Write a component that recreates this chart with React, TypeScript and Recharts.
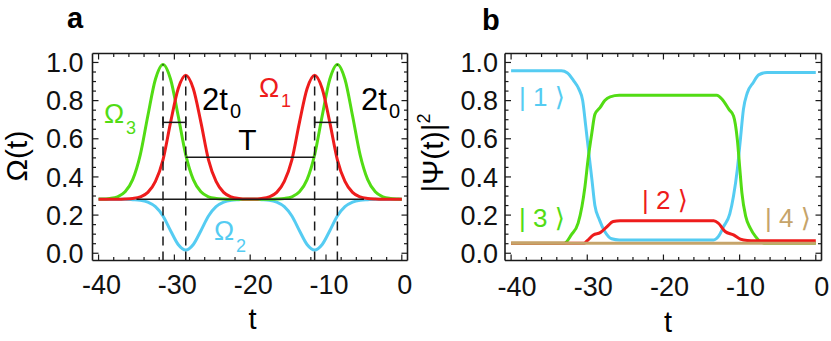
import React from 'react'
import { LineChart, Line, XAxis, YAxis, ReferenceLine } from 'recharts'

const FONT = "'Liberation Sans', Arial, Helvetica, sans-serif"
const KET_FONT = "'Liberation Sans', 'DejaVu Sans', sans-serif"

const CYAN = '#55ccf2'
const GREEN = '#52dc14'
const RED = '#ee1c1c'
const TAN = '#c6a46a'
const INK = '#1a1a1a'

// ---- panel a: pulse envelopes ----
const tA = [
  -40, -39.5, -38.5, -37.5, -36.5, -35.5, -34.5, -33.5, -32.5, -31.5, -30.5,
  -29.5, -28.5, -27.5, -26.5, -25.5, -24.5, -23.5, -22.5, -21.5, -20.5, -19.5,
  -18.5, -17.5, -16.5, -15.5, -14.5, -13.5, -12.5, -11.5, -10.5, -9.5, -8.5,
  -7.5, -6.5, -5.5, -4.5, -3.5, -2.5, -1.5, -0.5, 0,
]
const omega1 = [
  0.283, 0.283, 0.283, 0.283, 0.284, 0.287, 0.295, 0.319, 0.377, 0.49, 0.686,
  0.862, 0.933, 0.862, 0.686, 0.49, 0.377, 0.319, 0.295, 0.287, 0.284, 0.284,
  0.287, 0.295, 0.319, 0.377, 0.49, 0.686, 0.862, 0.933, 0.862, 0.686, 0.49,
  0.377, 0.319, 0.295, 0.287, 0.284, 0.283, 0.283, 0.283, 0.283,
]
const omega2 = [
  0.283, 0.283, 0.283, 0.283, 0.283, 0.281, 0.278, 0.268, 0.244, 0.195, 0.118,
  0.046, 0.017, 0.046, 0.118, 0.195, 0.244, 0.268, 0.278, 0.281, 0.283, 0.283,
  0.281, 0.278, 0.268, 0.244, 0.195, 0.118, 0.046, 0.017, 0.046, 0.118, 0.195,
  0.244, 0.268, 0.278, 0.281, 0.283, 0.283, 0.283, 0.283, 0.283,
]
const omega3 = [
  0.284, 0.284, 0.287, 0.296, 0.322, 0.386, 0.516, 0.721, 0.912, 0.99, 0.912,
  0.721, 0.516, 0.386, 0.322, 0.296, 0.287, 0.284, 0.283, 0.283, 0.283, 0.283,
  0.283, 0.283, 0.284, 0.287, 0.296, 0.322, 0.386, 0.516, 0.721, 0.912, 0.99,
  0.912, 0.721, 0.516, 0.386, 0.322, 0.296, 0.287, 0.284, 0.283,
]

// guide marks in panel a
const dashT = [-31.5, -28.5, -11.5, -8.5]
const dashTop = [0.99, 0.933, 0.933, 0.99]
const baseLevel = 0.283
const baseSpan = [-35, -5]
const t0Level = 0.686
const t0Spans = [
  [-31.5, -28.5],
  [-11.5, -8.5],
]
const bigTLevel = 0.503
const bigTSpan = [-28.5, -11.5]

// ---- panel b: populations ----
const ket1T = [
  -40, -33.4, -32.6, -31.8, -31.1, -30.6, -30.2, -29.8, -29.4, -29.0, -28.4,
  -27.7, -26.8, -25.8, -13.4, -12.8, -12.1, -11.3, -10.8, -10.3, -9.9, -9.5,
  -9.0, -8.2, -7.5, -6.4, 0,
]
const ket1V = [
  0.956, 0.956, 0.945, 0.905, 0.86, 0.8, 0.666, 0.526, 0.39, 0.25, 0.175,
  0.114, 0.076, 0.07, 0.07, 0.087, 0.14, 0.205, 0.3, 0.44, 0.596, 0.754,
  0.84, 0.895, 0.935, 0.947, 0.947,
]
const ket2T = [
  -40, -30.4, -30.0, -29.2, -28.3, -27.4, -26.6, -25.7, -13.4, -12.8, -11.9,
  -10.8, -9.9, -9.0, -8.0, 0,
]
const ket2V = [
  0.053, 0.053, 0.066, 0.096, 0.108, 0.14, 0.166, 0.17, 0.17, 0.158, 0.114,
  0.096, 0.074, 0.067, 0.066, 0.066,
]
const ket3T = [
  -40, -33.0, -32.1, -31.2, -30.7, -30.3, -29.9, -29.4, -29.0, -28.3, -27.7,
  -27.0, -25.8, -13.0, -12.3, -11.4, -10.8, -10.3, -10.0, -9.7, -9.2, -8.6,
  -7.9, -7.3, -6.8, 0,
]
const ket3V = [
  0.053, 0.053, 0.096, 0.158, 0.245, 0.35, 0.49, 0.63, 0.728, 0.765, 0.8,
  0.82, 0.828, 0.828, 0.807, 0.754, 0.72, 0.596, 0.456, 0.316, 0.193, 0.132,
  0.087, 0.061, 0.053, 0.053,
]
const ket4T = [-40, 0]
const ket4V = [0.053, 0.053]

// ticks
const xTicks = [
  -40, -38, -36, -34, -32, -30, -28, -26, -24, -22, -20, -18, -16, -14, -12,
  -10, -8, -6, -4, -2, 0,
]
const yTicks = [
  0, 0.05, 0.1, 0.15, 0.2, 0.25, 0.3, 0.35, 0.4, 0.45, 0.5, 0.55, 0.6, 0.65,
  0.7, 0.75, 0.8, 0.85, 0.9, 0.95, 1,
]

const X_DOMAIN: [number, number] = [-40.8, 0.75]
const Y_DOMAIN: [number, number] = [-0.038, 1.047]
const TICK_FS = 27

const panelA = tA.map((t, i) => ({ t, o1: omega1[i], o2: omega2[i], o3: omega3[i] }))
const zip = (ts: number[], vs: number[]) => ts.map((t, i) => ({ t, v: vs[i] }))
const ket1 = zip(ket1T, ket1V)
const ket2 = zip(ket2T, ket2V)
const ket3 = zip(ket3T, ket3V)
const ket4 = zip(ket4T, ket4V)

// ticks are drawn inward, Mathematica-frame style
function xTick(side: 'bottom' | 'top', labelDx: number, labelDy: number) {
  return (props: any) => {
    const { x, y, payload } = props
    const v = payload.value
    const major = Math.abs(v % 10) < 1e-6
    const len = major ? 6 : 3.5
    const dir = side === 'bottom' ? -1 : 1
    return (
      <g>
        <line x1={x} x2={x} y1={y} y2={y + dir * len} stroke={INK} strokeWidth={1.2} />
        {side === 'bottom' && major && (
          <text x={x + labelDx} y={y + labelDy} textAnchor="middle" fontFamily={FONT} fontSize={TICK_FS} fill="#111">
            {v}
          </text>
        )}
      </g>
    )
  }
}

function yTick(side: 'left' | 'right', labelGap: number) {
  return (props: any) => {
    const { x, y, payload } = props
    const v = payload.value
    const major = Math.abs(v * 5 - Math.round(v * 5)) < 1e-6
    const len = major ? 6 : 3.5
    const dir = side === 'left' ? 1 : -1
    return (
      <g>
        <line x1={x} x2={x + dir * len} y1={y} y2={y} stroke={INK} strokeWidth={1.2} />
        {side === 'left' && major && (
          <text x={x - labelGap} y={y + 9.7} textAnchor="end" fontFamily={FONT} fontSize={TICK_FS} fill="#111">
            {v.toFixed(1)}
          </text>
        )}
      </g>
    )
  }
}

function Frame({ leftW, labelDx, labelDy, labelGap }: any) {
  return [
    <XAxis
      key="xb"
      xAxisId="b"
      dataKey="t"
      type="number"
      domain={X_DOMAIN}
      allowDataOverflow
      ticks={xTicks}
      interval={0}
      height={80.5}
      tickSize={0}
      tickMargin={0}
      tickLine={false}
      axisLine={{ stroke: INK, strokeWidth: 1.6 }}
      tick={xTick('bottom', labelDx, labelDy)}
    />,
    <XAxis
      key="xt"
      xAxisId="t"
      orientation="top"
      dataKey="t"
      type="number"
      domain={X_DOMAIN}
      allowDataOverflow
      ticks={xTicks}
      interval={0}
      height={1}
      tickSize={0}
      tickMargin={0}
      tickLine={false}
      axisLine={{ stroke: INK, strokeWidth: 1.6 }}
      tick={xTick('top', 0, 0)}
    />,
    <YAxis
      key="yl"
      yAxisId="l"
      type="number"
      domain={Y_DOMAIN}
      allowDataOverflow
      ticks={yTicks}
      interval={0}
      width={leftW}
      tickSize={0}
      tickMargin={0}
      tickLine={false}
      axisLine={{ stroke: INK, strokeWidth: 1.6 }}
      tick={yTick('left', labelGap)}
    />,
    <YAxis
      key="yr"
      yAxisId="r"
      orientation="right"
      type="number"
      domain={Y_DOMAIN}
      allowDataOverflow
      ticks={yTicks}
      interval={0}
      width={1}
      tickSize={0}
      tickMargin={0}
      tickLine={false}
      axisLine={{ stroke: INK, strokeWidth: 1.6 }}
      tick={yTick('right', 0)}
    />,
  ]
}

function PanelA() {
  const ax = { xAxisId: 'b', yAxisId: 'l' }
  return (
    <LineChart width={415} height={341} data={panelA} margin={{ top: 52.5, right: 6.5, bottom: 0, left: 0 }}>
      {Frame({ leftW: 92.5, labelDx: 3, labelDy: 33, labelGap: 9 })}
      <Line {...ax} dataKey="o2" type="monotone" stroke={CYAN} strokeWidth={3} dot={false} isAnimationActive={false} />
      <Line {...ax} dataKey="o3" type="monotone" stroke={GREEN} strokeWidth={3} dot={false} isAnimationActive={false} />
      <Line {...ax} dataKey="o1" type="monotone" stroke={RED} strokeWidth={3} dot={false} isAnimationActive={false} />
      <ReferenceLine
        {...ax}
        segment={[
          { x: baseSpan[0], y: baseLevel },
          { x: baseSpan[1], y: baseLevel },
        ]}
        stroke={INK}
        strokeWidth={1.5}
      />
      {dashT.map((t, i) => (
        <ReferenceLine
          key={'d' + i}
          {...ax}
          segment={[
            { x: t, y: Y_DOMAIN[0] },
            { x: t, y: dashTop[i] },
          ]}
          stroke={INK}
          strokeWidth={1.5}
          strokeDasharray="9 6"
        />
      ))}
      {t0Spans.map(([a, b], i) => (
        <ReferenceLine
          key={'s' + i}
          {...ax}
          segment={[
            { x: a, y: t0Level },
            { x: b, y: t0Level },
          ]}
          stroke={INK}
          strokeWidth={1.5}
        />
      ))}
      {t0Spans.flat().map((t, i) => (
        <ReferenceLine
          key={'c' + i}
          {...ax}
          segment={[
            { x: t, y: t0Level - 0.03 },
            { x: t, y: t0Level + 0.03 },
          ]}
          stroke={INK}
          strokeWidth={1.5}
        />
      ))}
      <ReferenceLine
        {...ax}
        segment={[
          { x: bigTSpan[0], y: bigTLevel },
          { x: bigTSpan[1], y: bigTLevel },
        ]}
        stroke={INK}
        strokeWidth={1.5}
      />
    </LineChart>
  )
}

function PanelB() {
  const ax = { xAxisId: 'b', yAxisId: 'l' }
  return (
    <LineChart width={416} height={341} margin={{ top: 52.5, right: 8.5, bottom: 0, left: 0 }}>
      {Frame({ leftW: 90, labelDx: 6, labelDy: 35, labelGap: 7 })}
      <Line {...ax} data={ket1} dataKey="v" type="monotone" stroke={CYAN} strokeWidth={3} dot={false} isAnimationActive={false} />
      <Line {...ax} data={ket3} dataKey="v" type="monotone" stroke={GREEN} strokeWidth={3} dot={false} isAnimationActive={false} />
      <Line {...ax} data={ket2} dataKey="v" type="monotone" stroke={RED} strokeWidth={3} dot={false} isAnimationActive={false} />
      <Line {...ax} data={ket4} dataKey="v" type="linear" stroke={TAN} strokeWidth={3} dot={false} isAnimationActive={false} />
    </LineChart>
  )
}

function Overlay() {
  const t = { fontFamily: FONT }
  const ket = { fontFamily: KET_FONT, fontSize: 26 }
  return (
    <svg width={831} height={341} style={{ position: 'absolute', left: 0, top: 0, pointerEvents: 'none' }}>
      <text x={67} y={28} fontFamily={FONT} fontWeight="bold" fontSize={29} fill="#000">a</text>
      <text x={482} y={30} fontFamily={FONT} fontWeight="bold" fontSize={29} fill="#000">b</text>

      <text {...t} fontSize={30} textAnchor="middle" transform="translate(27,156) rotate(-90)" fill="#000">Ω(t)</text>
      <text {...t} fontSize={29} textAnchor="middle" x={252.5} y={329} fill="#000">t</text>
      <text {...t} fontSize={30} textAnchor="middle" transform="translate(443,153) rotate(-90)" fill="#000">
        |Ψ(t)|<tspan fontSize={18} dy={-13}>2</tspan>
      </text>
      <text {...t} fontSize={29} textAnchor="middle" x={668} y={332} fill="#000">t</text>

      <text {...t} fontSize={27} x={104} y={123} fill={GREEN}>Ω</text>
      <text {...t} fontSize={18} x={126} y={134} fill={GREEN}>3</text>
      <text {...t} fontSize={27} x={259} y={97} fill={RED}>Ω</text>
      <text {...t} fontSize={18} x={281} y={107} fill={RED}>1</text>
      <text {...t} fontSize={27} x={214} y={240} fill={CYAN}>Ω</text>
      <text {...t} fontSize={18} x={236} y={252} fill={CYAN}>2</text>

      <text {...t} fontSize={31} x={202} y={110} fill="#000">2t</text>
      <text {...t} fontSize={20} x={230} y={118} fill="#000">0</text>
      <text {...t} fontSize={31} x={361} y={110} fill="#000">2t</text>
      <text {...t} fontSize={20} x={389} y={118} fill="#000">0</text>
      <text {...t} fontSize={30} textAnchor="middle" x={247.5} y={150} fill="#000">T</text>

      <text {...ket} x={519} y={106} fill={CYAN}>| 1 ⟩</text>
      <text {...ket} x={519} y={227} fill={GREEN}>| 3 ⟩</text>
      <text {...ket} x={642} y={209} fill={RED}>| 2 ⟩</text>
      <text {...ket} x={765} y={227} fill={TAN}>| 4 ⟩</text>
    </svg>
  )
}

export default function App() {
  return (
    <div style={{ position: 'absolute', left: 0, top: 0, width: 831, height: 341, background: '#fff' }}>
      <div style={{ position: 'absolute', left: 0, top: 0 }}>
        <PanelA />
      </div>
      <div style={{ position: 'absolute', left: 415, top: 0 }}>
        <PanelB />
      </div>
      <Overlay />
    </div>
  )
}
